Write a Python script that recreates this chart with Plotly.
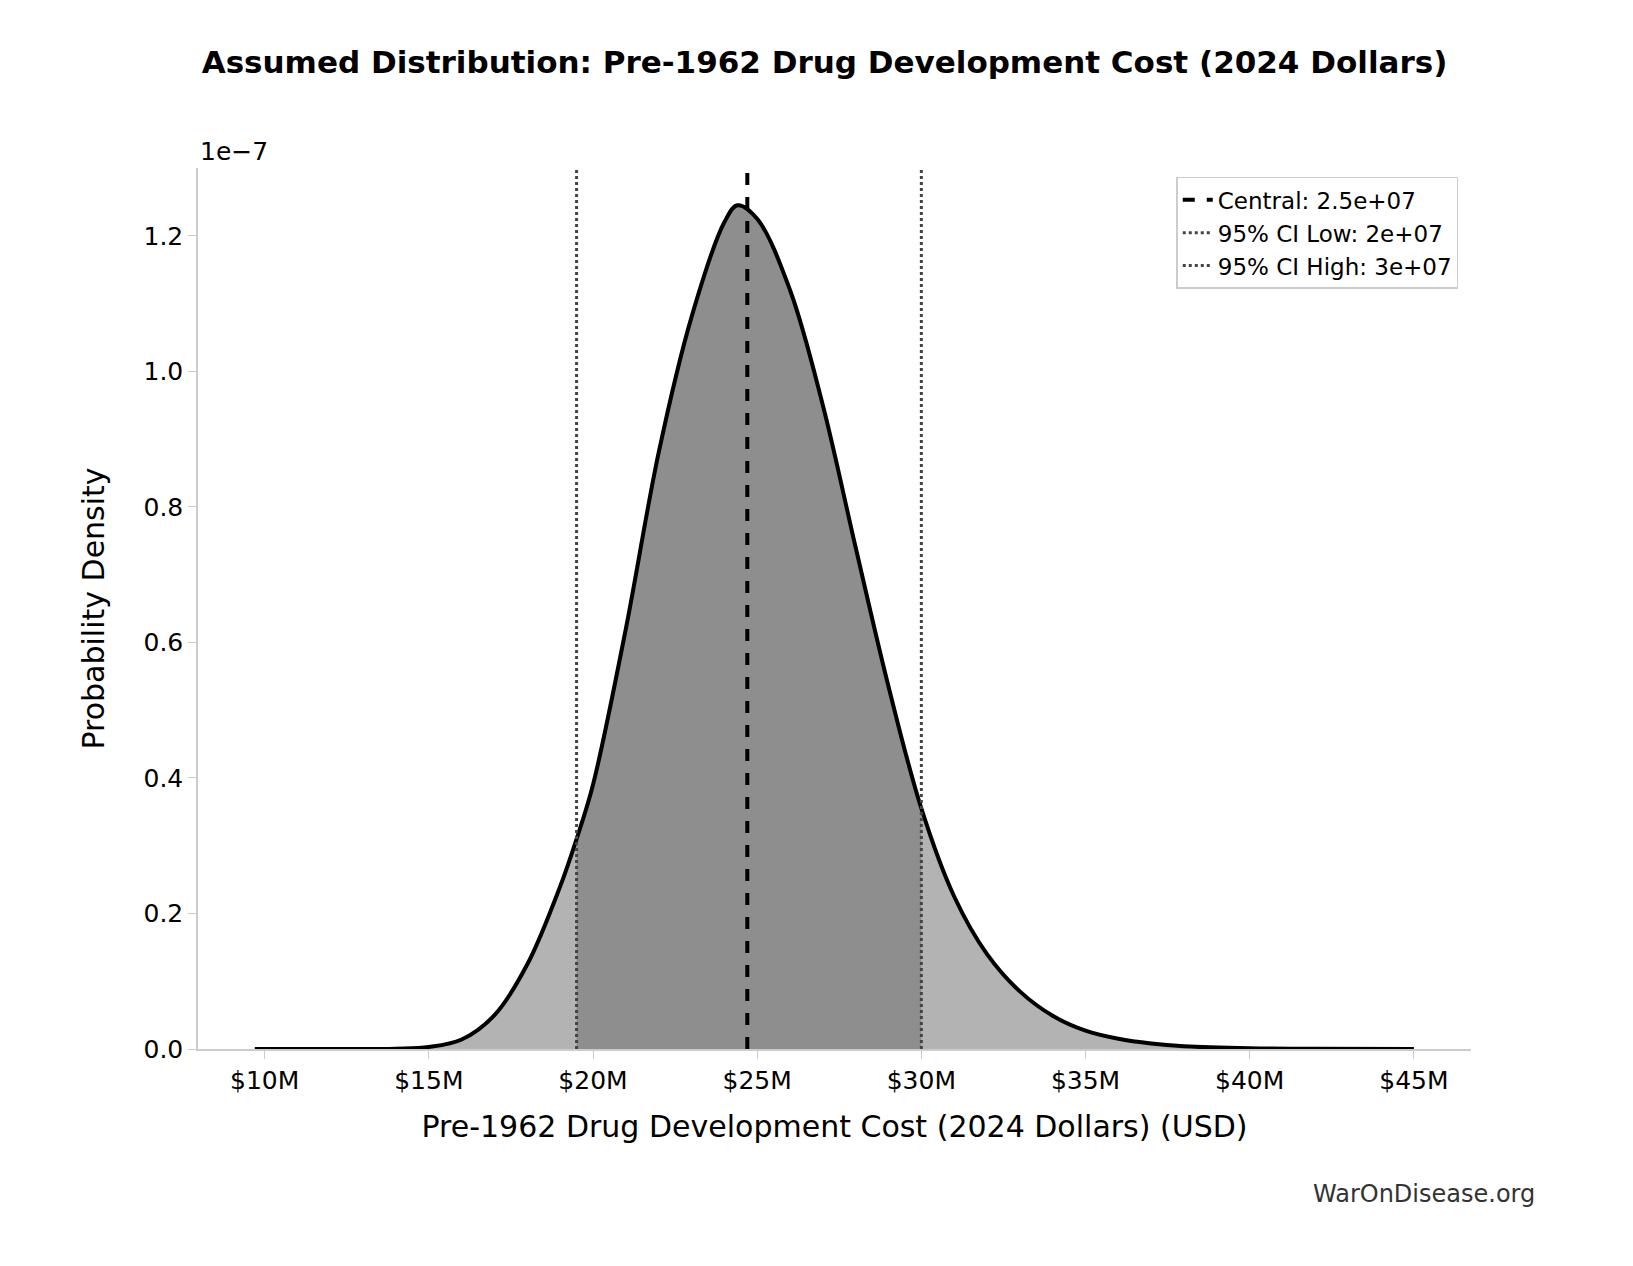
import plotly.graph_objects as go

# curve (cost in $M, density in units of 1e-7)
cost_m = [9.7, 12, 14, 15, 16, 17, 18, 19, 19.5, 20, 21, 22, 23, 24, 24.4, 25, 26, 27, 28, 29,
          30, 31, 32, 33, 34, 35, 36, 37, 38, 40, 42, 45]
density = [0, 0, 0.0005, 0.003, 0.014, 0.05, 0.125, 0.24, 0.31, 0.39, 0.62, 0.88, 1.08, 1.22, 1.245,
           1.225, 1.12, 0.95, 0.74, 0.535, 0.355, 0.225, 0.14, 0.085, 0.049, 0.027, 0.015, 0.008,
           0.004, 0.001, 0.0002, 0]

central_m = 24.7
ci_low_m = 19.5
ci_high_m = 30.0
legend_labels = ["Central: 2.5e+07", "95% CI Low: 2e+07", "95% CI High: 3e+07"]
x_ticks = [10, 15, 20, 25, 30, 35, 40, 45]
y_ticks = [0.0, 0.2, 0.4, 0.6, 0.8, 1.0, 1.2]

font = "DejaVu Sans"
y_top = 1.30

inner = [(x, y) for x, y in zip(cost_m, density) if ci_low_m <= x <= ci_high_m]

fig = go.Figure()
fig.add_trace(go.Scatter(x=cost_m, y=density, mode="lines", line=dict(width=0),
                         fill="tozeroy", fillcolor="#b3b3b3", showlegend=False, hoverinfo="skip",
                         line_shape="spline"))
fig.add_trace(go.Scatter(x=[p[0] for p in inner], y=[p[1] for p in inner], mode="lines",
                         line=dict(width=0), fill="tozeroy", fillcolor="#8e8e8e",
                         showlegend=False, hoverinfo="skip", line_shape="spline"))
fig.add_trace(go.Scatter(x=cost_m, y=density, mode="lines", line=dict(color="black", width=4),
                         line_shape="spline", showlegend=False))
fig.add_trace(go.Scatter(x=[central_m, central_m], y=[0, y_top], mode="lines",
                         line=dict(color="black", width=4, dash="dash"), name=legend_labels[0]))
fig.add_trace(go.Scatter(x=[ci_low_m, ci_low_m], y=[0, y_top], mode="lines",
                         line=dict(color="#444444", width=3, dash="dot"), name=legend_labels[1]))
fig.add_trace(go.Scatter(x=[ci_high_m, ci_high_m], y=[0, y_top], mode="lines",
                         line=dict(color="#444444", width=3, dash="dot"), name=legend_labels[2]))

ml, mr, mt, mb = 190, 170, 160, 225
fig.update_layout(
    width=1633, height=1266,
    margin=dict(l=ml, r=mr, t=mt, b=mb),
    plot_bgcolor="white", paper_bgcolor="white",
    font=dict(family=font, size=25, color="black"),
    title=dict(text="<b>Assumed Distribution: Pre-1962 Drug Development Cost (2024 Dollars)</b>",
               x=0.5, xanchor="center", y=0.957, yanchor="middle", font=dict(size=31)),
    legend=dict(x=0.99, y=0.99, xanchor="right", yanchor="top", bgcolor="white",
                bordercolor="#cccccc", borderwidth=1.5, font=dict(size=23)),
    xaxis=dict(range=[7.97, 46.74], tickvals=x_ticks, ticktext=[f"${v}M" for v in x_ticks],
               showgrid=False, zeroline=False, showline=True, linecolor="#cccccc", linewidth=1.5,
               ticks="outside", ticklen=8, tickcolor="#cccccc",
               title=dict(text="Pre-1962 Drug Development Cost (2024 Dollars) (USD)", standoff=22)),
    yaxis=dict(range=[0, y_top], tickvals=y_ticks, ticktext=[f"{v:.1f}" for v in y_ticks],
               showgrid=False, zeroline=False, showline=True, linecolor="#cccccc", linewidth=1.5,
               ticks="outside", ticklen=8, tickcolor="#cccccc",
               title=dict(text="Probability Density", standoff=30)),
    annotations=[
        dict(text="1e\u22127", x=0, y=1.0, xref="paper", yref="paper", xanchor="left",
             yanchor="bottom", showarrow=False, font=dict(size=25)),
        dict(text="WarOnDisease.org", x=1.052, y=-0.165, xref="paper", yref="paper",
             xanchor="right", yanchor="middle", showarrow=False,
             font=dict(size=24, color="#333333")),
    ],
)
fig.write_html("out.html")
